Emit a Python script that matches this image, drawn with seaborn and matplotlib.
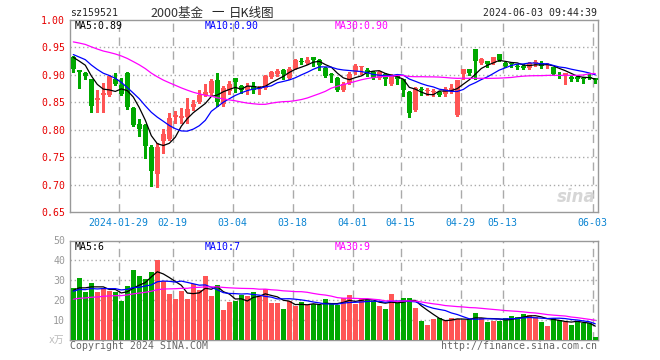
import numpy as np
import pandas as pd
import matplotlib

matplotlib.use("Agg")
import matplotlib.pyplot as plt
import seaborn as sns

W, H = 660, 360
RED = "#ff5555"
GREEN = "#00a800"
GRID = "#aaaaaa"
FRAME = "#999999"
MONO = 7.1
BAR_W = 5 / 6  # five pixels of each six-pixel slot

# trading calendar 2024-01-17 .. 2024-06-03 (weekdays minus exchange holidays)
HOLIDAYS = ["2024-02-09", "2024-02-12", "2024-02-13", "2024-02-14", "2024-02-15",
            "2024-02-16", "2024-04-04", "2024-04-05", "2024-05-01", "2024-05-02",
            "2024-05-03"]
TICK_DATES = ["2024-01-29", "2024-02-19", "2024-03-04", "2024-03-18", "2024-04-01",
              "2024-04-15", "2024-04-29", "2024-05-13", "2024-06-03"]
TICK_LABELS = ["2024-01-29", "02-19", "03-04", "03-18", "04-01",
               "04-15", "04-29", "05-13", "06-03"]

OPEN = [0.933, 0.908, 0.904, 0.892, 0.855, 0.864, 0.864, 0.893, 0.882, 0.904,
        0.840, 0.811, 0.809, 0.768, 0.719, 0.780, 0.783, 0.823, 0.822, 0.823,
        0.841, 0.850, 0.863, 0.867, 0.890, 0.846, 0.871, 0.894, 0.880, 0.872,
        0.879, 0.874, 0.876, 0.897, 0.901, 0.909, 0.895, 0.911, 0.925, 0.922,
        0.932, 0.927, 0.913, 0.902, 0.894, 0.873, 0.886, 0.907, 0.914, 0.908,
        0.905, 0.895, 0.901, 0.884, 0.898, 0.892, 0.868, 0.836, 0.875, 0.870,
        0.868, 0.868, 0.866, 0.870, 0.827, 0.901, 0.910, 0.947, 0.921, 0.925,
        0.921, 0.938, 0.921, 0.921, 0.916, 0.917, 0.913, 0.921, 0.922, 0.918,
        0.914, 0.900, 0.900, 0.896, 0.896, 0.894, 0.897, 0.894]
HIGH = [0.934, 0.909, 0.905, 0.893, 0.873, 0.886, 0.899, 0.904, 0.894, 0.905,
        0.842, 0.819, 0.811, 0.772, 0.775, 0.802, 0.830, 0.835, 0.839, 0.858,
        0.854, 0.873, 0.884, 0.892, 0.904, 0.879, 0.889, 0.894, 0.882, 0.886,
        0.887, 0.879, 0.899, 0.907, 0.911, 0.911, 0.915, 0.929, 0.930, 0.932,
        0.933, 0.929, 0.915, 0.904, 0.896, 0.887, 0.905, 0.919, 0.915, 0.912,
        0.907, 0.907, 0.904, 0.901, 0.899, 0.893, 0.870, 0.878, 0.878, 0.876,
        0.874, 0.870, 0.878, 0.883, 0.891, 0.910, 0.910, 0.947, 0.930, 0.925,
        0.933, 0.938, 0.924, 0.924, 0.919, 0.919, 0.924, 0.927, 0.925, 0.922,
        0.915, 0.905, 0.903, 0.898, 0.899, 0.897, 0.901, 0.895]
LOW = [0.906, 0.876, 0.892, 0.833, 0.833, 0.833, 0.861, 0.882, 0.864, 0.838,
       0.807, 0.789, 0.748, 0.698, 0.695, 0.757, 0.781, 0.813, 0.812, 0.812,
       0.836, 0.848, 0.861, 0.864, 0.844, 0.843, 0.866, 0.868, 0.867, 0.866,
       0.867, 0.866, 0.874, 0.895, 0.898, 0.892, 0.893, 0.910, 0.919, 0.919,
       0.917, 0.909, 0.897, 0.887, 0.870, 0.870, 0.883, 0.901, 0.901, 0.898,
       0.893, 0.892, 0.881, 0.882, 0.884, 0.861, 0.824, 0.835, 0.864, 0.864,
       0.861, 0.861, 0.861, 0.867, 0.825, 0.892, 0.900, 0.893, 0.919, 0.915,
       0.919, 0.925, 0.915, 0.915, 0.911, 0.910, 0.910, 0.917, 0.913, 0.913,
       0.900, 0.895, 0.883, 0.889, 0.889, 0.886, 0.892, 0.886]
CLOSE = [0.910, 0.905, 0.898, 0.843, 0.857, 0.867, 0.898, 0.884, 0.866, 0.841,
         0.809, 0.801, 0.770, 0.725, 0.768, 0.792, 0.821, 0.826, 0.825, 0.837,
         0.846, 0.863, 0.868, 0.889, 0.850, 0.876, 0.884, 0.887, 0.872, 0.879,
         0.872, 0.875, 0.898, 0.905, 0.907, 0.901, 0.911, 0.927, 0.924, 0.927,
         0.927, 0.918, 0.898, 0.900, 0.873, 0.884, 0.901, 0.917, 0.915, 0.906,
         0.895, 0.905, 0.892, 0.899, 0.892, 0.873, 0.830, 0.876, 0.872, 0.871,
         0.870, 0.864, 0.875, 0.876, 0.890, 0.910, 0.904, 0.925, 0.929, 0.919,
         0.932, 0.927, 0.916, 0.919, 0.915, 0.913, 0.921, 0.924, 0.917, 0.919,
         0.901, 0.898, 0.903, 0.892, 0.893, 0.892, 0.895, 0.890]
VOLUME = [26, 31, 24, 28.5, 24, 26, 24.5, 24, 19.7, 27,
          35, 32, 30.5, 34, 40, 29.5, 23, 20.5, 24.5, 20.5,
          28, 25, 32, 22, 27.5, 15, 19, 19.5, 22.5, 22,
          24, 22, 25.5, 18.5, 18.5, 15.5, 19.5, 17, 19, 17.5,
          18, 17.5, 20.5, 18, 17.5, 21, 22.5, 18, 20.5, 20,
          19.5, 17, 15.5, 23, 18.5, 21, 21, 16, 9.5, 7.5,
          10.5, 11, 10, 11, 10.5, 10, 10.5, 13.5, 11, 9,
          9.7, 9.7, 11.1, 12.1, 11.6, 13, 12.6, 11.8, 9.1, 7.1,
          11.1, 10.1, 9.1, 7.6, 9.1, 8.4, 8.4, 1.3]

# sessions before the visible window, only feeding the moving averages
PRE_CLOSE = [0.968, 0.972, 0.975, 0.978, 0.976, 0.973, 0.970, 0.974, 0.978, 0.981,
             0.979, 0.975, 0.972, 0.969, 0.971, 0.968, 0.965, 0.966, 0.962, 0.960,
             0.951, 0.945, 0.940, 0.938, 0.936, 0.940, 0.935, 0.940, 0.935]
PRE_VOLUME = [17, 19, 18, 20, 16, 18, 21, 19, 17, 18, 20, 19, 18, 17, 19, 21, 18, 19,
              20, 16, 22, 25, 23, 26, 24, 25, 24, 26, 24]

MA_TEXT = ["MA5:0.89", "MA10:0.90", "MA30:0.90"]
VMA_TEXT = ["MA5:6", "MA10:7", "MA30:9"]
MA_COLORS = ["black", "#0000ff", "#ff00ff"]

sns.set_theme(style="white")
plt.rcParams["font.family"] = ["DejaVu Sans Mono", "Noto Sans CJK SC"]

dates = pd.bdate_range("2024-01-17", "2024-06-03")
dates = dates[~dates.isin(pd.to_datetime(HOLIDAYS))]
df = pd.DataFrame({"date": dates, "open": OPEN, "high": HIGH, "low": LOW,
                   "close": CLOSE, "vol": VOLUME})
df["idx"] = np.arange(len(df))
df["dir"] = np.where(df["close"] >= df["open"], "up", "down")
colors = np.where(df["dir"] == "up", RED, GREEN)

n_pre = len(PRE_CLOSE)
closes = pd.Series(PRE_CLOSE + CLOSE)
vols = pd.Series(PRE_VOLUME + VOLUME)
for w in (5, 10, 30):
    df[f"ma{w}"] = closes.rolling(w).mean().iloc[n_pre:].to_numpy()
    df[f"vma{w}"] = vols.rolling(w).mean().iloc[n_pre:].to_numpy()

tick_pos = [int(df.index[df["date"] == pd.Timestamp(d)][0]) for d in TICK_DATES]


def px(x, y):
    return x / W, 1 - y / H


fig = plt.figure(figsize=(W / 100, H / 100), dpi=100)
ax = fig.add_axes([70 / W, 1 - 212 / H, 528 / W, 192 / H])
axv = fig.add_axes([70 / W, 1 - 340 / H, 528 / W, 99.5 / H])

# candles
body_lo = df[["open", "close"]].min(axis=1)
body_h = (df["close"] - df["open"]).abs().clip(lower=0.0015)
ax.vlines(df["idx"], df["low"], df["high"], colors=colors, lw=1, zorder=3,
          antialiased=False)
ax.bar(df["idx"], body_h, bottom=body_lo, width=BAR_W, color=colors, lw=0, zorder=3,
       antialiased=False)
for w, c in zip((5, 10, 30), MA_COLORS):
    sns.lineplot(x=df["idx"], y=df[f"ma{w}"], ax=ax, color=c, lw=0.9, zorder=4)

# volume
axv.bar(df["idx"], df["vol"], width=BAR_W, color=colors, lw=0, zorder=3,
        antialiased=False)
for w, c in zip((5, 10, 30), MA_COLORS):
    sns.lineplot(x=df["idx"], y=df[f"vma{w}"], ax=axv, color=c, lw=0.9, zorder=4)

for a, lim, ticks, grid_vals in (
    (ax, (0.65, 1.00), np.arange(0.65, 1.001, 0.05), np.arange(0.70, 0.951, 0.05)),
    (axv, (0, 50), [10, 20, 30, 40, 50], [10, 20, 30, 40]),
):
    a.set_xlim(-0.55, len(df) - 0.55)
    a.set_ylim(*lim)
    a.set_yticks(ticks)
    a.set_xlabel("")
    a.set_ylabel("")
    a.tick_params(length=0, pad=3.5, labelsize=MONO)
    for gv in grid_vals:
        a.axhline(gv, color=GRID, lw=1, ls=(0, (1, 2)), zorder=1)
    for tp in tick_pos:
        a.axvline(tp - 0.45, color=GRID, lw=1, ls=(0, (6, 4)), zorder=1)
    for s in a.spines.values():
        s.set_color(FRAME)
        s.set_linewidth(1)

ax.set_yticklabels([f"{v:.2f}" for v in ax.get_yticks()], color="#e60000")
ax.set_xticks([p - 0.45 for p in tick_pos])
ax.set_xticklabels(TICK_LABELS, color="#0a84d2")
ax.tick_params(axis="x", pad=4)
axv.set_yticklabels([str(v) for v in [10, 20, 30, 40, 50]], color="#999999")
axv.set_xticks([])

# header and footer texts
fig.text(*px(70, 13), "sz159521", fontsize=MONO, va="center", ha="left")
fig.text(*px(150, 13), "2000基金", fontsize=9, va="center", ha="left",
         family=["Noto Sans CJK SC"], color="#333333")
fig.text(*px(211, 13), "一", fontsize=9, va="center", ha="left",
         family=["Noto Sans CJK SC"])
fig.text(*px(229, 13), "日K线图", fontsize=9, va="center", ha="left",
         family=["Noto Sans CJK SC"])
fig.text(*px(597, 13), "2024-06-03 09:44:39", fontsize=MONO, va="center", ha="right")
for x0, t, c in zip((75, 205, 335), MA_TEXT, MA_COLORS):
    fig.text(*px(x0, 26), t, fontsize=MONO, va="center", ha="left", color=c)
for x0, t, c in zip((75, 205, 335), VMA_TEXT, MA_COLORS):
    fig.text(*px(x0, 246.5), t, fontsize=MONO, va="center", ha="left", color=c)
fig.text(*px(64, 340), "x万", fontsize=7, va="center", ha="right", color="#bbbbbb")
fig.text(*px(70, 346), "Copyright 2024 SINA.COM", fontsize=MONO, va="center",
         ha="left", color="#666666")
fig.text(*px(597, 346), "http://finance.sina.com.cn", fontsize=MONO, va="center",
         ha="right", color="#666666")
fig.text(*px(596, 197), "sina", fontsize=12, va="center", ha="right", color="#d6d6d6",
         style="italic", weight="bold", family=["DejaVu Sans"])

fig.savefig("out.png", dpi=100, facecolor="white")
